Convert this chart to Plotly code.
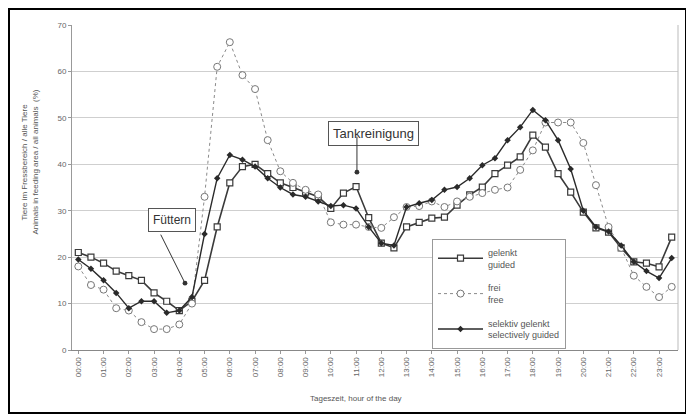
import plotly.graph_objects as go

times = [f"{h:02d}:{m:02d}" for h in range(24) for m in (0, 30)]
hour_labels = [f"{h:02d}:00" for h in range(24)]

guided = [21, 20, 18.7, 17, 16, 15, 12.3, 10.5, 8.5, 10.5, 15, 26.5, 36, 39.5,
          40, 38, 36, 35, 34, 33, 30.5, 33.8, 35.2, 28.5, 23, 22,
          26.5, 27.5, 28.4, 28.6, 31.2, 33.4, 35.1, 38, 39.8, 41.6, 46.3, 43.7,
          38, 34, 29.7, 26.3, 25.4, 22, 19, 18.7, 17.9, 24.3]
free = [18, 14, 13, 9, 8.5, 6, 4.5, 4.5, 5.5, 10, 33, 61, 66.3, 59.2,
        56.2, 45.2, 38.5, 36, 34.5, 33.5, 27.5, 27, 27, 26.5, 26.3, 28.6,
        30.8, 31, 32, 30.8, 32, 33, 33.8, 34.5, 35, 38.8, 43, 49,
        49, 49, 44.6, 35.5, 26.5, 22, 16, 13.6, 11.4, 13.6]
selective = [19.5, 17.5, 15, 12.3, 9, 10.5, 10.5, 8, 8.5, 11.4, 25, 37, 42, 41,
             39.5, 37, 35, 33.5, 33, 32, 31, 31.2, 30.5, 26.5, 23, 22.5,
             30.8, 31.6, 32.3, 34.5, 35.1, 37, 39.8, 41.3, 45.2, 48, 51.7, 49.5,
             45.2, 39, 30, 26.5, 25.5, 22.5, 19, 17, 15.5, 19.8]

y_ticks = [0, 10, 20, 30, 40, 50, 60, 70]

fig = go.Figure()
fig.add_trace(go.Scatter(
    x=times, y=guided, name="gelenkt<br>guided", mode="lines+markers",
    line=dict(color="#3a3a3a", width=1.6),
    marker=dict(symbol="square", size=6, color="white", line=dict(color="#3a3a3a", width=1.2)),
    legendgroup="a"))
fig.add_trace(go.Scatter(
    x=times, y=free, name="frei<br>free", mode="lines+markers",
    line=dict(color="#8a8a8a", width=1, dash="dot"),
    marker=dict(symbol="circle", size=7, color="white", line=dict(color="#777", width=1)),
    legendgroup="b"))
fig.add_trace(go.Scatter(
    x=times, y=selective, name="selektiv gelenkt<br>selectively guided", mode="lines+markers",
    line=dict(color="#2a2a2a", width=1.4),
    marker=dict(symbol="diamond", size=5, color="#2a2a2a"),
    legendgroup="c"))

# page has an 8px body margin: figure sits at (8, 8) in the window
OFF = 8
W, H = 686, 411
L, R, T, B = 64, 16, 17, 69
pw, ph = W - L - R, H - T - B

def px(x):
    return (x - OFF - L) / pw

def py(y):
    return (H - B - (y - OFF)) / ph

fig.update_layout(
    width=W, height=H,
    margin=dict(l=L, r=R, t=T, b=B),
    paper_bgcolor="white", plot_bgcolor="white",
    font=dict(family="Liberation Sans, Arial, sans-serif", color="#444", size=9),
    showlegend=True,
    legend=dict(x=px(432), y=py(239), xanchor="left", yanchor="top",
                bordercolor="#999", borderwidth=1, bgcolor="white",
                font=dict(size=9, color="#555"), tracegroupgap=9,
                itemwidth=45),
    xaxis=dict(type="category", range=[-0.5, 47.5],
               tickmode="array", tickvals=hour_labels, ticktext=hour_labels,
               tickangle=-90, tickfont=dict(size=8, color="#666"),
               showgrid=False, showline=True, linecolor="#888", linewidth=1,
               ticks="outside", ticklen=3, tickcolor="#999", mirror=False),
    yaxis=dict(range=[0, 70], tickvals=y_ticks, ticktext=[str(v) for v in y_ticks],
               tickfont=dict(size=8, color="#666"),
               showgrid=True, gridcolor="#cfcfcf", gridwidth=1,
               showline=True, linecolor="#999", linewidth=1,
               ticks="outside", ticklen=3, tickcolor="#999", zeroline=False),
)

# outer border
fig.add_shape(type="rect", xref="paper", yref="paper",
              x0=px(9), x1=px(686), y0=py(413), y1=py(9),
              line=dict(color="black", width=2), fillcolor="rgba(0,0,0,0)", layer="above")
# right plot border
fig.add_shape(type="line", xref="paper", yref="paper",
              x0=1, x1=1, y0=0, y1=1, line=dict(color="#bbb", width=1))

# axis titles
fig.add_annotation(text="Tiere im Fressbereich / alle Tiere", xref="paper", yref="paper",
                   x=px(17), y=py(162), textangle=-90, showarrow=False,
                   font=dict(size=8, color="#555"))
fig.add_annotation(text="Animals in feeding area / all animals  (%)", xref="paper", yref="paper",
                   x=px(28), y=py(162), textangle=-90, showarrow=False,
                   font=dict(size=8, color="#555"))
fig.add_annotation(text="Tageszeit, hour of the day", xref="paper", yref="paper",
                   x=px(356), y=py(405), showarrow=False,
                   font=dict(size=8, color="#555"))

# callouts
fig.add_annotation(text="Füttern", xref="paper", yref="paper",
                   x=px(147.5), y=py(220), showarrow=False,
                   font=dict(size=12, color="#333"), bordercolor="#555", borderwidth=1,
                   borderpad=4, bgcolor="white")
fig.add_annotation(text="", x=8.45, y=14.4, xref="x", yref="y",
                   ax=-25, ay=-50, showarrow=True, arrowhead=6, arrowsize=1.2,
                   arrowwidth=1, arrowcolor="#333")
fig.add_annotation(text="Tankreinigung", xref="paper", yref="paper",
                   x=px(373.5), y=py(121), showarrow=False,
                   font=dict(size=13, color="#333"), bordercolor="#555", borderwidth=1,
                   borderpad=4, bgcolor="white")
fig.add_annotation(text="", x=22.07, y=38.3, xref="x", yref="y",
                   ax=0, ay=-37, showarrow=True, arrowhead=6, arrowsize=1.2,
                   arrowwidth=1, arrowcolor="#333")

fig.write_html("out.html")
